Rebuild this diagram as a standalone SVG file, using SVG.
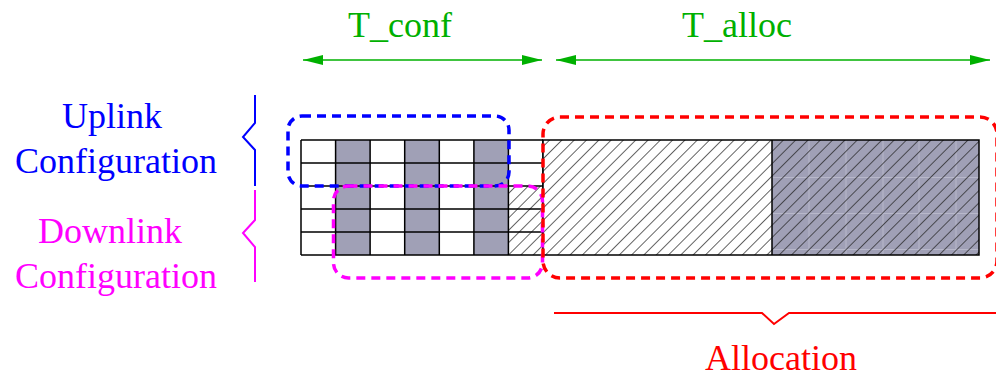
<svg xmlns="http://www.w3.org/2000/svg" width="996" height="378" viewBox="0 0 996 378">
<style>
.lbl{font-family:"Liberation Serif","Times New Roman",serif;font-size:36px;text-anchor:middle}
.grid{stroke:#000;stroke-width:1.5;fill:none}
.gray{fill:#a0a0b6}
.faint{stroke:#b8b8ca;stroke-width:1;fill:none}
.dash{fill:none;stroke-width:3.5;stroke-dasharray:9 6}
.dim{stroke:#00b000;stroke-width:1.6;fill:none}
.brace{fill:none;stroke-width:2}
</style>
<defs>
<pattern id="hatch" width="8.7" height="8.7" patternUnits="userSpaceOnUse" patternTransform="rotate(45)">
<line x1="0" y1="0" x2="0" y2="8.7" stroke="#222" stroke-width="1.4"/>
</pattern>
<marker id="ah" viewBox="0 0 20 10" refX="20" refY="5" markerWidth="20" markerHeight="10" markerUnits="userSpaceOnUse" orient="auto-start-reverse">
<path d="M0,0 L20,5 L0,10 Z" fill="#00b000"/>
</marker>
</defs>

<g id="timing">
<text class="lbl" x="400" y="37" fill="#00b000">T_conf</text>
<text class="lbl" x="737" y="37" fill="#00b000">T_alloc</text>
</g>

<g id="connectors">
<line class="dim" x1="303" y1="60" x2="542" y2="60" marker-start="url(#ah)" marker-end="url(#ah)"/>
<line class="dim" x1="556" y1="60" x2="990" y2="60" marker-start="url(#ah)" marker-end="url(#ah)"/>
</g>

<g id="uplink-label">
<text class="lbl" x="112" y="128" fill="#0000ff">Uplink</text>
<text class="lbl" x="116" y="173" fill="#0000ff">Configuration</text>
<path class="brace" stroke="#0000ff" d="M255,95 L255,123 L243,137 L255,150 L255,186"/>
</g>

<g id="downlink-label">
<text class="lbl" x="110" y="243" fill="#ff00ff">Downlink</text>
<text class="lbl" x="116" y="288" fill="#ff00ff">Configuration</text>
<path class="brace" stroke="#ff00ff" d="M255,190 L255,220 L243,233 L255,247 L255,282"/>
</g>

<g id="config-grid">
<rect x="301" y="140" width="242" height="115" fill="#fff"/>
<rect class="gray" x="335.6" y="140" width="34.6" height="115"/>
<rect class="gray" x="404.7" y="140" width="34.6" height="115"/>
<rect class="gray" x="473.9" y="140" width="34.5" height="115"/>
<rect x="508.4" y="186" width="34.6" height="69" fill="url(#hatch)"/>
<path class="grid" d="M301,140 H543 M301,163 H543 M301,186 H543 M301,209 H543 M301,232 H543 M301,255 H543
M301,140 V255 M335.6,140 V255 M370.1,140 V255 M404.7,140 V255 M439.3,140 V255 M473.9,140 V255 M508.4,140 V255 M543,140 V255"/>
</g>

<g id="allocation-area">
<rect x="543" y="140" width="229" height="115" fill="#fff"/>
<rect class="gray" x="772" y="140" width="207" height="115"/>
<path class="faint" d="M809,140 V255 M846,140 V255 M883,140 V255 M919,140 V255 M956,140 V255 M772,177.5 H979 M772,213.5 H979 M772,249.5 H979"/>
<rect x="543" y="140" width="436" height="115" fill="url(#hatch)"/>
<path class="grid" d="M543,140 H979 V255 H543 Z M772,140 V255"/>
</g>

<g id="uplink-box">
<rect class="dash" stroke="#0000ff" x="288" y="116" width="221" height="70" rx="14"/>
</g>
<g id="downlink-box">
<rect class="dash" stroke="#ff00ff" x="333.5" y="186" width="209" height="92" rx="15"/>
</g>
<g id="allocation-box">
<rect class="dash" stroke="#ff0000" x="543" y="117" width="454" height="161" rx="17"/>
</g>

<g id="allocation-label">
<path class="brace" stroke="#ff0000" d="M554,313 L762,313 L774,324 L789,313 L996,313"/>
<text class="lbl" x="781" y="370" fill="#ff0000">Allocation</text>
</g>
</svg>
